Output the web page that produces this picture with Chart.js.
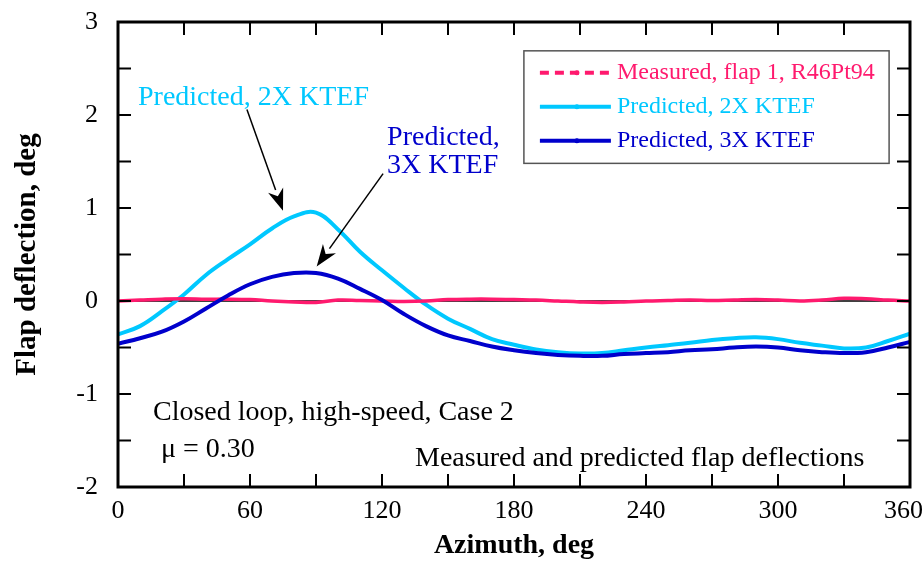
<!DOCTYPE html>
<html><head><meta charset="utf-8">
<script src="https://cdn.jsdelivr.net/npm/chart.js@4"></script>
<style>html,body{margin:0;padding:0;background:#fff}#wrap{width:923px;height:565px}</style>
</head><body><div id="wrap"><canvas id="c" width="923" height="565"></canvas></div>
<script>
// ---- data ----
const azimuth = [0,10,20,30,40,50,60,70,80,90,100,110,120,130,140,150,160,170,180,190,200,210,220,230,240,250,260,270,280,290,300,310,320,330,340,350,360];
const measured = [0.0,0.01,0.02,0.025,0.02,0.02,0.015,0.0,-0.01,-0.015,0.01,0.005,0.0,-0.005,0.0,0.015,0.02,0.02,0.015,0.01,0.0,-0.01,-0.015,-0.01,0.0,0.005,0.01,0.005,0.01,0.015,0.01,0.0,0.01,0.03,0.025,0.01,0.0];
const predicted2x = [-0.36,-0.27,-0.11,0.07,0.28,0.45,0.61,0.78,0.91,0.95,0.77,0.53,0.33,0.14,-0.04,-0.19,-0.30,-0.41,-0.47,-0.52,-0.55,-0.565,-0.56,-0.53,-0.50,-0.475,-0.45,-0.42,-0.40,-0.39,-0.41,-0.45,-0.48,-0.51,-0.50,-0.43,-0.35];
const predicted3x = [-0.46,-0.40,-0.33,-0.22,-0.08,0.06,0.18,0.26,0.30,0.30,0.24,0.13,0.01,-0.14,-0.27,-0.37,-0.43,-0.49,-0.53,-0.56,-0.58,-0.59,-0.59,-0.57,-0.56,-0.55,-0.53,-0.52,-0.50,-0.49,-0.50,-0.53,-0.55,-0.56,-0.55,-0.50,-0.44];
const xTickLabels = ['0','60','120','180','240','300','360'];
const yTickLabels = ['-2','-1','0','1','2','3'];
const seriesNames = ['Measured, flap 1, R46Pt94','Predicted, 2X KTEF','Predicted, 3X KTEF'];
const seriesColors = ['#ff1a6e','#00c8ff','#0000cc'];

const toPts = (ys) => azimuth.map((x,i)=>({x:x,y:ys[i]}));
const SERIF = '"Liberation Serif","Times New Roman",serif';

const decor = {
  id:'decor',
  beforeDatasetsDraw(chart){
    const {ctx, chartArea:a, scales:{x,y}} = chart;
    ctx.save();
    ctx.strokeStyle='#000'; ctx.lineWidth=1.5;
    const y0 = y.getPixelForValue(0);
    ctx.beginPath(); ctx.moveTo(a.left,y0); ctx.lineTo(a.right,y0); ctx.stroke();
    ctx.restore();
  },
  afterDatasetsDraw(chart){
    const {ctx, chartArea:a, scales:{x,y}} = chart;
    ctx.save();
    ctx.strokeStyle='#000'; ctx.lineWidth=2;
    const TL=13;
    x.ticks.forEach(t=>{
      const px=x.getPixelForValue(t.value);
      ctx.beginPath(); ctx.moveTo(px,a.bottom); ctx.lineTo(px,a.bottom-TL); ctx.stroke();
      ctx.beginPath(); ctx.moveTo(px,a.top); ctx.lineTo(px,a.top+TL); ctx.stroke();
    });
    y.ticks.forEach(t=>{
      const py=y.getPixelForValue(t.value);
      ctx.beginPath(); ctx.moveTo(a.left,py); ctx.lineTo(a.left+TL,py); ctx.stroke();
      ctx.beginPath(); ctx.moveTo(a.right,py); ctx.lineTo(a.right-TL,py); ctx.stroke();
    });
    ctx.lineWidth=3;
    ctx.strokeRect(a.left,a.top,a.right-a.left,a.bottom-a.top);

    const X=v=>x.getPixelForValue(v), Y=v=>y.getPixelForValue(v);
    ctx.textBaseline='middle'; ctx.textAlign='left';
    ctx.font='28px '+SERIF;
    ctx.fillStyle=seriesColors[1];
    ctx.fillText('Predicted, 2X KTEF', X(9.1), Y(2.19));
    ctx.fillStyle=seriesColors[2];
    ctx.fillText('Predicted,', X(122.3), Y(1.76));
    ctx.fillText('3X KTEF', X(122.3), Y(1.46));
    ctx.fillStyle='#000';
    ctx.fillText('Closed loop, high-speed, Case 2', X(15.9), Y(-1.2));
    ctx.fillText('\u03bc = 0.30', X(19.5), Y(-1.6));
    ctx.fillText('Measured and predicted flap deflections', X(135), Y(-1.69));

    const arrow=(x1,y1,x2,y2)=>{
      const ax=X(x1),ay=Y(y1),bx=X(x2),by=Y(y2);
      const ang=Math.atan2(by-ay,bx-ax);
      const L=22, W=8;
      const cx=bx-L*Math.cos(ang), cy=by-L*Math.sin(ang);
      ctx.strokeStyle='#000'; ctx.lineWidth=1.5;
      ctx.beginPath(); ctx.moveTo(ax,ay); ctx.lineTo(cx,cy); ctx.stroke();
      ctx.fillStyle='#000';
      ctx.beginPath();
      ctx.moveTo(bx,by);
      ctx.lineTo(cx+W*Math.sin(ang), cy-W*Math.cos(ang));
      ctx.lineTo(bx-(L*0.7)*Math.cos(ang), by-(L*0.7)*Math.sin(ang));
      ctx.lineTo(cx-W*Math.sin(ang), cy+W*Math.cos(ang));
      ctx.closePath(); ctx.fill();
    };
    arrow(58.6,2.06,75,0.97);
    arrow(120.5,1.37,90.3,0.37);

    const lx=X(184.5), rx=X(350.5), ty=Y(2.69), byy=Y(1.48);
    ctx.fillStyle='#fff'; ctx.fillRect(lx,ty,rx-lx,byy-ty);
    ctx.strokeStyle='#555'; ctx.lineWidth=1.5; ctx.strokeRect(lx,ty,rx-lx,byy-ty);
    const rows=[ty+22, ty+56, ty+90];
    ctx.font='24px '+SERIF;
    seriesNames.forEach((n,i)=>{
      const ry=rows[i];
      ctx.strokeStyle=seriesColors[i]; ctx.lineWidth=4;
      ctx.setLineDash(i===0?[9,6]:[]);
      ctx.beginPath(); ctx.moveTo(lx+16,ry); ctx.lineTo(lx+87,ry); ctx.stroke();
      ctx.setLineDash([]);
      ctx.fillStyle=seriesColors[i];
      ctx.beginPath(); ctx.arc(lx+53,ry,2.5,0,Math.PI*2); ctx.fill();
      ctx.fillText(n, lx+93, ry);
    });
    ctx.restore();
  }
};

new Chart(document.getElementById('c'),{
  type:'line',
  data:{datasets:[
    {label:seriesNames[2],data:toPts(predicted3x),borderColor:seriesColors[2],borderWidth:4,pointRadius:0,tension:0.4,order:1},
    {label:seriesNames[0],data:toPts(measured),borderColor:seriesColors[0],borderWidth:3.5,pointRadius:0,tension:0.4,order:2},
    {label:seriesNames[1],data:toPts(predicted2x),borderColor:seriesColors[1],borderWidth:4,pointRadius:0,tension:0.4,order:3}
  ]},
  options:{
    responsive:false, animation:false, devicePixelRatio:1,
    layout:{padding:{top:22,right:13,left:0,bottom:0}},
    plugins:{legend:{display:false},tooltip:{enabled:false}},
    scales:{
      x:{type:'linear',min:0,max:360,
        grid:{display:false,drawTicks:false},border:{display:false},
        ticks:{stepSize:30,padding:9,color:'#000',font:{family:SERIF,size:26},maxRotation:0,autoSkip:false,
          callback:(v)=>{const s=String(v); if(!xTickLabels.includes(s)) return ''; return s===xTickLabels[xTickLabels.length-1]? s+'\u2002' : s;}},
        title:{display:true,text:'Azimuth, deg',color:'#000',font:{family:SERIF,size:28,weight:'bold'},padding:{top:0,bottom:2}},
        afterFit:(s)=>{s.height=78; s.paddingLeft=0; s.paddingRight=0;}
      },
      y:{type:'linear',min:-2,max:3,
        grid:{display:false,drawTicks:false},border:{display:false},
        ticks:{stepSize:0.5,padding:20,color:'#000',font:{family:SERIF,size:26},autoSkip:false,
          callback:(v)=>yTickLabels.includes(String(v))?String(v):''},
        title:{display:true,text:'Flap deflection, deg',color:'#000',font:{family:SERIF,size:29,weight:'bold'},padding:{top:10,bottom:0}},
        afterFit:(s)=>{s.width=118; s.paddingTop=0; s.paddingBottom=0;}
      }
    }
  },
  plugins:[decor]
});
</script></body></html>
